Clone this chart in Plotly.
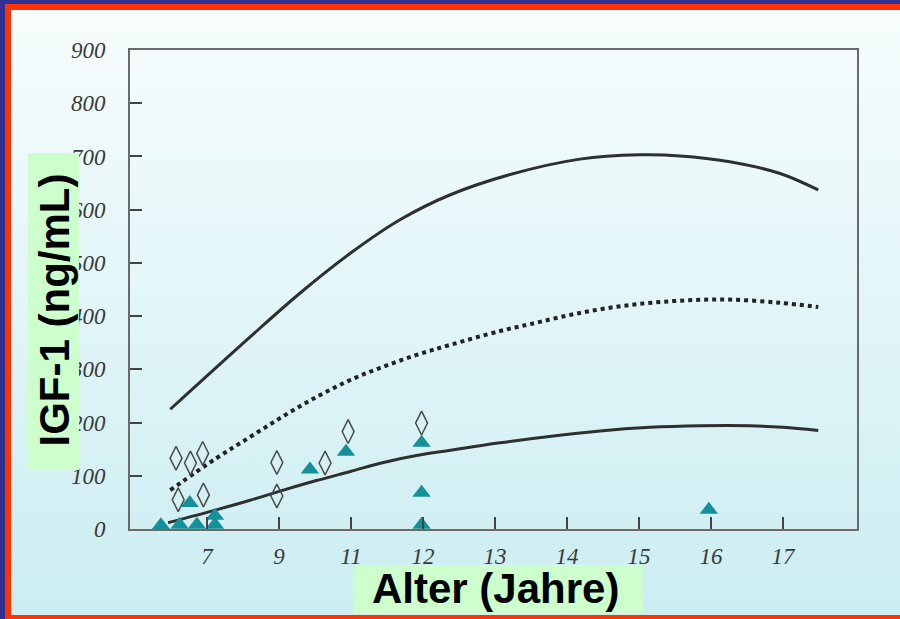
import plotly.graph_objects as go

# ---------------- data ----------------
# x positions are in axis-slot units: slot k sits at tick label X_TICK_TEXT[k]
X_TICK_VALS = [0, 1, 2, 3, 4, 5, 6, 7, 8]
X_TICK_TEXT = ["7", "9", "11", "12", "13", "14", "15", "16", "17"]
Y_TICK_VALS = [0, 100, 200, 300, 400, 500, 600, 700, 800, 900]

upper_x = [-0.51, 0.60, 1.29, 1.99, 2.68, 3.38, 4.21, 5.18, 6.01, 6.57, 7.26, 7.96, 8.49]
upper_y = [225, 361, 443, 518, 581, 628, 666, 695, 703, 701, 690, 668, 637]

mid_x = [-0.51, 0.13, 0.60, 1.06, 1.52, 1.99, 2.45, 2.91, 3.38, 4.07, 4.49, 5.18, 5.88, 6.57, 7.26, 7.96, 8.49]
mid_y = [73, 133, 173, 212, 248, 280, 305, 327, 346, 372, 385, 406, 421, 429, 431, 425, 417]

lower_x = [-0.54, 0.13, 0.60, 1.06, 1.52, 1.99, 2.45, 2.91, 3.38, 4.07, 5.46, 6.15, 6.85, 7.54, 8.00, 8.49]
lower_y = [12, 36, 54, 73, 91, 108, 125, 138, 148, 162, 184, 191, 194, 194, 191, 185]

diamond_x = [-0.43, -0.23, -0.06, -0.40, -0.05, 0.97, 0.97, 1.64, 1.96, 2.98]
diamond_y = [133, 124, 142, 55, 64, 125, 62, 124, 183, 199]

triangle_x = [-0.64, -0.38, -0.24, -0.14, 0.11, 0.11, 1.43, 1.93, 2.98, 2.98, 2.98, 6.97]
triangle_y = [7, 8, 49, 8, 25, 8, 112, 145, 162, 68, 8, 36]

Y_TITLE = "IGF-1 (ng/mL)"
X_TITLE = "Alter (Jahre)"

# ---------------- layout geometry ----------------
WIDTH, HEIGHT = 900, 619
L, R, T, B = 130, 857, 50, 529
PW, PH = R - L, B - T


def px(xp):
    return (xp - L) / PW


def py(yp):
    return (B - yp) / PH


fig = go.Figure()

fig.add_trace(go.Scatter(x=upper_x, y=upper_y, mode="lines",
                         line=dict(color="#2f2f2f", width=3, shape="spline", smoothing=1.0),
                         hoverinfo="skip"))
fig.add_trace(go.Scatter(x=mid_x, y=mid_y, mode="lines",
                         line=dict(color="#222222", width=4, shape="spline", smoothing=1.0, dash="4px,4px"),
                         hoverinfo="skip"))
fig.add_trace(go.Scatter(x=lower_x, y=lower_y, mode="lines",
                         line=dict(color="#2f2f2f", width=3, shape="spline", smoothing=1.0),
                         hoverinfo="skip"))
fig.add_trace(go.Scatter(x=diamond_x, y=diamond_y, mode="markers", cliponaxis=False,
                         marker=dict(symbol="diamond-tall-open", size=17, color="#4a4a4a",
                                     line=dict(color="#4a4a4a", width=1.5))))
fig.add_trace(go.Scatter(x=triangle_x, y=triangle_y, mode="markers", cliponaxis=False,
                         marker=dict(symbol="triangle-up", size=16, color="#14909a",
                                     line=dict(width=0))))

tickfont = dict(family="Liberation Serif", size=23, color="#3a3a3a", style="italic")

fig.update_xaxes(range=[(L - 207) / 72, (R - 207) / 72], tickvals=X_TICK_VALS, ticktext=X_TICK_TEXT,
                 ticks="inside", ticklen=12, tickwidth=2, tickcolor="#444",
                 showline=True, linecolor="#6a6a6a", linewidth=2, mirror=True,
                 showgrid=False, zeroline=False, tickfont=tickfont, ticklabelstandoff=5)
fig.update_yaxes(range=[0, 900], tickvals=Y_TICK_VALS,
                 ticks="inside", ticklen=12, tickwidth=2, tickcolor="#444",
                 showline=True, linecolor="#6a6a6a", linewidth=2, mirror=True,
                 showgrid=False, zeroline=False, tickfont=tickfont, ticklabelstandoff=18)

bg_svg = ("data:image/svg+xml;utf8,"
          "<svg xmlns='http://www.w3.org/2000/svg' width='900' height='619' preserveAspectRatio='none'>"
          "<defs><linearGradient id='g' x1='0' y1='0' x2='0' y2='1'>"
          "<stop offset='0' stop-color='%23f8fdfd'/>"
          "<stop offset='0.5' stop-color='%23e1f5f8'/>"
          "<stop offset='1' stop-color='%23caedf1'/>"
          "</linearGradient></defs>"
          "<rect x='0' y='0' width='900' height='619' fill='url(%23g)'/></svg>")

fig.add_layout_image(dict(source=bg_svg, xref="paper", yref="paper",
                          x=px(0), y=py(0), sizex=px(WIDTH + 20) - px(0), sizey=py(0) - py(HEIGHT + 10),
                          xanchor="left", yanchor="top", sizing="stretch", layer="below"))

shapes = []
# title boxes
shapes.append(dict(type="rect", xref="paper", yref="paper", layer="above",
                   x0=px(28), x1=px(79), y0=py(470), y1=py(153),
                   fillcolor="#ccffcc", line=dict(width=0)))
shapes.append(dict(type="rect", xref="paper", yref="paper", layer="above",
                   x0=px(353), x1=px(643), y0=py(614), y1=py(565),
                   fillcolor="#ccffcc", line=dict(width=0)))
# slide frame
frame = [
    (0, 0, 900, 4, "#2e3192"),
    (0, 4, 900, 10, "#ff3300"),
    (0, 0, 5, 619, "#2e3192"),
    (5, 4, 11, 619, "#ff3300"),
    (5, 615, 900, 619, "#ff3300"),
]
for x0, y0, x1, y1, c in frame:
    shapes.append(dict(type="rect", xref="paper", yref="paper", layer="above",
                       x0=px(x0), x1=px(x1), y0=py(y1), y1=py(y0),
                       fillcolor=c, line=dict(width=0)))

annotations = [
    dict(text=Y_TITLE, xref="paper", yref="paper", x=px(53.5), y=py(310),
         xanchor="center", yanchor="middle", textangle=-90, showarrow=False,
         font=dict(family="Liberation Sans", size=42, color="#000000", weight="bold")),
    dict(text=X_TITLE, xref="paper", yref="paper", x=px(495), y=py(588),
         xanchor="center", yanchor="middle", showarrow=False,
         font=dict(family="Liberation Sans", size=42, color="#000000", weight="bold")),
]

fig.update_layout(width=WIDTH, height=HEIGHT, showlegend=False,
                  margin=dict(l=L, r=WIDTH - R, t=T, b=HEIGHT - B, pad=0),
                  paper_bgcolor="#e3f5f8", plot_bgcolor="rgba(0,0,0,0)",
                  shapes=shapes, annotations=annotations)

fig.write_html("out.html", config={"displayModeBar": False},
               post_script="document.body.style.margin='0';document.body.style.overflow='hidden';")
